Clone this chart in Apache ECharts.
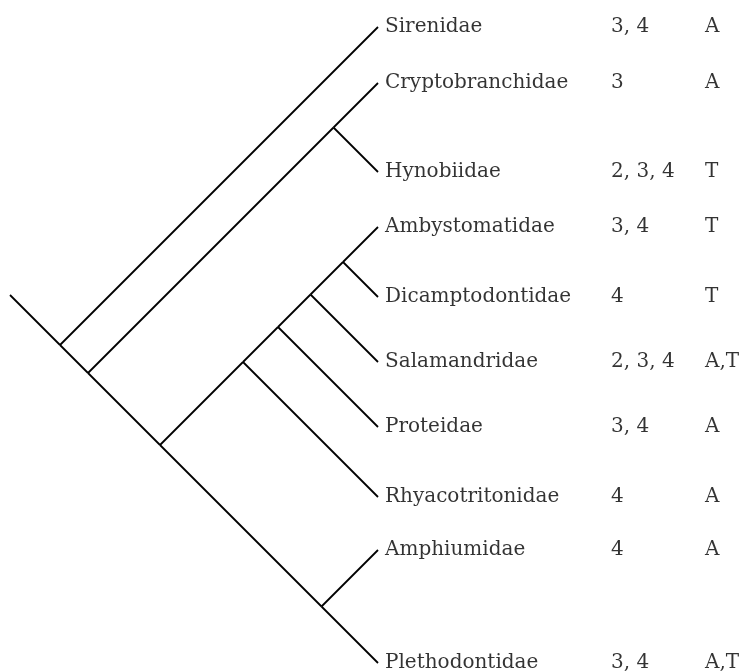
<!DOCTYPE html>
<html>
<head>
<meta charset="utf-8">
<script src="https://cdn.jsdelivr.net/npm/echarts@6/dist/echarts.min.js"></script>
<style>html,body{margin:0;padding:0;background:#fff}#chart{width:745px;height:671px}</style>
</head>
<body>
<div id="chart"></div>
<script>
// ---- data ----
const taxa = ['Sirenidae','Cryptobranchidae','Hynobiidae','Ambystomatidae','Dicamptodontidae','Salamandridae','Proteidae','Rhyacotritonidae','Amphiumidae','Plethodontidae'];
const regions = ['3, 4','3','2, 3, 4','3, 4','4','2, 3, 4','3, 4','4','4','3, 4'];
const lifeHistory = ['A','A','T','T','T','A,T','A','A','A','A,T'];
// vertical position of each terminal taxon
const tipPos = [27, 83, 172, 227, 297, 362, 427, 497, 550, 663];
// topology (indices into taxa)
const tree = [0, [[1, 2], [[[[[3, 4], 5], 6], 7], [8, 9]]]];

// ---- layout constants ----
const TIP_X = 378, STEM = 50;

const segments = [];
function layout(node) {
  if (typeof node === 'number') {
    const y = tipPos[node];
    return { x: TIP_X, y: y, top: y, bot: y };
  }
  const kids = node.map(layout);
  const top = Math.min(...kids.map(k => k.top));
  const bot = Math.max(...kids.map(k => k.bot));
  const p = { x: TIP_X - (bot - top) / 2, y: (top + bot) / 2, top, bot };
  kids.forEach(k => segments.push([p.x, p.y, k.x, k.y]));
  return p;
}
const root = layout(tree);
segments.push([root.x - STEM, root.y - STEM, root.x, root.y]);

const chart = echarts.init(document.getElementById('chart'));
chart.setOption({
  animation: false,
  backgroundColor: '#fff',
  grid: { left: 0, right: 0, top: 0, bottom: 0 },
  xAxis: { type: 'value', min: 0, max: 745, show: false },
  yAxis: { type: 'value', min: 0, max: 671, inverse: true, show: false },
  series: [
    {
      type: 'custom',
      silent: true,
      data: segments,
      encode: { x: [0, 2], y: [1, 3] },
      renderItem: function (params, api) {
        const a = api.coord([api.value(0), api.value(1)]);
        const b = api.coord([api.value(2), api.value(3)]);
        return {
          type: 'line',
          shape: { x1: a[0], y1: a[1], x2: b[0], y2: b[1] },
          style: { stroke: '#000', lineWidth: 1.8 }
        };
      }
    },
    {
      type: 'scatter',
      silent: true,
      symbolSize: 0,
      data: tipPos.map((y, i) => [TIP_X, y]),
      label: {
        show: true,
        position: 'right',
        distance: 7,
        color: '#000',
        fontFamily: 'DejaVu Serif',
        fontSize: 20,
        formatter: function (p) {
          const i = p.dataIndex;
          return '{n|' + taxa[i] + '}{r|' + regions[i] + '}{l|' + lifeHistory[i] + '}';
        },
        rich: {
          n: { width: 226, fontFamily: 'DejaVu Serif', fontSize: 20, color: '#000' },
          r: { width: 94, fontFamily: 'DejaVu Serif', fontSize: 20, color: '#000' },
          l: { fontFamily: 'DejaVu Serif', fontSize: 20, color: '#000' }
        }
      }
    }
  ]
});
</script>
</body>
</html>
